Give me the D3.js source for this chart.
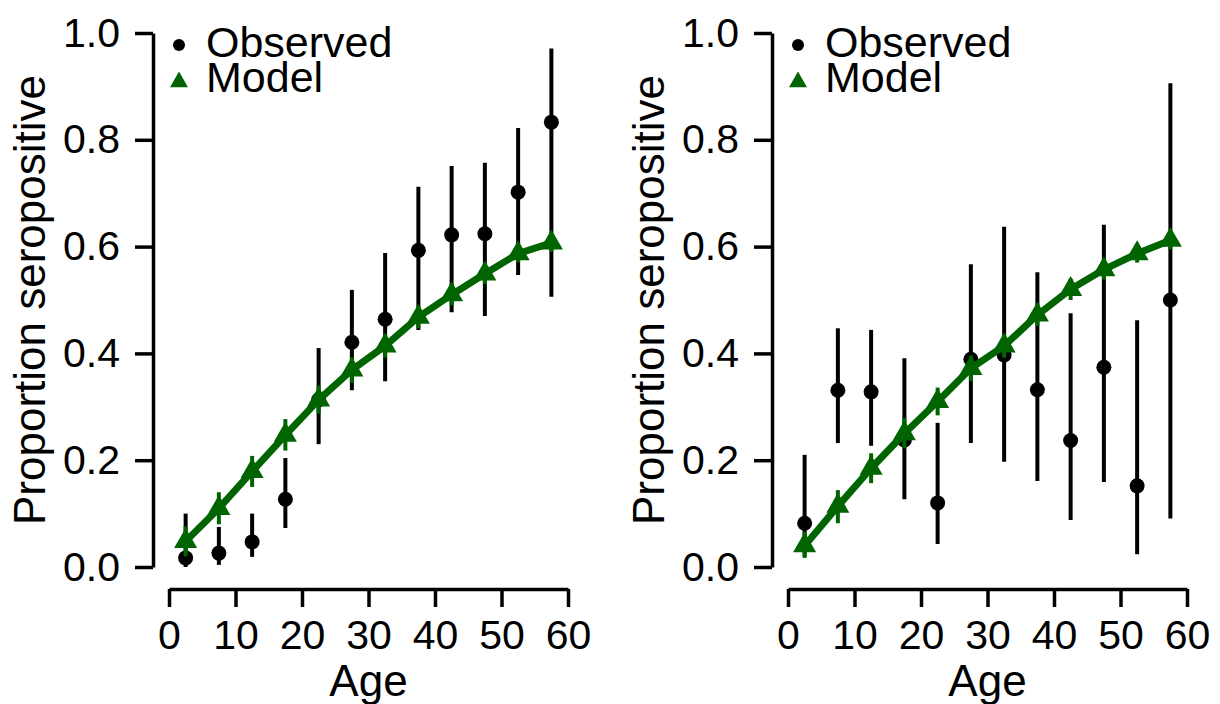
<!DOCTYPE html>
<html><head><meta charset="utf-8">
<script src="https://cdn.jsdelivr.net/npm/d3@7"></script>
<style>
html,body{margin:0;padding:0;background:#fff;}
svg{display:block;font-family:"Liberation Sans",Arial,Helvetica,sans-serif;}
</style></head>
<body>
<svg id="chart" width="1220" height="704"></svg>
<script>
const ages = [2.5, 7.5, 12.5, 17.5, 22.5, 27.5, 32.5, 37.5, 42.5, 47.5, 52.5, 57.5];
const xTicks = [0, 10, 20, 30, 40, 50, 60];
const yTicks = [0, 0.2, 0.4, 0.6, 0.8, 1.0];

// Left panel
const obsA   = [0.017, 0.026, 0.047, 0.127, 0.313, 0.421, 0.464, 0.593, 0.622, 0.624, 0.702, 0.833];
const obsLoA = [0.000, 0.004, 0.019, 0.073, 0.230, 0.331, 0.348, 0.444, 0.477, 0.470, 0.547, 0.506];
const obsHiA = [0.100, 0.075, 0.100, 0.204, 0.410, 0.519, 0.588, 0.712, 0.751, 0.757, 0.822, 0.971];
const modA   = [0.048, 0.110, 0.179, 0.247, 0.313, 0.369, 0.414, 0.468, 0.510, 0.549, 0.587, 0.607];
const modLoA = [0.020, 0.080, 0.150, 0.218, 0.287, 0.345, 0.392, 0.447, 0.490, 0.530, 0.570, 0.590];
const modHiA = [0.076, 0.140, 0.208, 0.277, 0.340, 0.393, 0.436, 0.489, 0.530, 0.568, 0.604, 0.624];

// Right panel
const obsB   = [0.082, 0.331, 0.328, 0.238, 0.120, 0.389, 0.397, 0.332, 0.237, 0.374, 0.152, 0.500];
const obsLoB = [0.020, 0.232, 0.227, 0.127, 0.043, 0.232, 0.197, 0.161, 0.088, 0.159, 0.024, 0.091];
const obsHiB = [0.210, 0.447, 0.444, 0.391, 0.270, 0.567, 0.637, 0.552, 0.475, 0.641, 0.462, 0.906];
const modB   = [0.040, 0.114, 0.185, 0.250, 0.310, 0.372, 0.414, 0.472, 0.520, 0.557, 0.587, 0.612];
const modLoB = [0.017, 0.082, 0.157, 0.222, 0.284, 0.348, 0.392, 0.451, 0.500, 0.538, 0.570, 0.595];
const modHiB = [0.066, 0.144, 0.213, 0.279, 0.336, 0.396, 0.436, 0.493, 0.540, 0.576, 0.604, 0.629];

const legendLabels = ["Observed", "Model"];
const xTitle = "Age";
const yTitle = "Proportion seropositive";

const green = "#006400";
const svg = d3.select("#chart");

function panel(off, obs, lo, hi, mod, mlo, mhi) {
  const x = d3.scaleLinear().domain([0, 60]).range([169 + off, 568 + off]);
  const y = d3.scaleLinear().domain([0, 1]).range([567, 33]);
  const g = svg.append("g");

  // y axis
  const ya = g.append("g").attr("transform", `translate(${153 + off},0)`)
    .call(d3.axisLeft(y).tickValues(yTicks).tickFormat(d3.format(".1f")).tickSize(18).tickSizeOuter(0).tickPadding(15));
  // x axis
  const xa = g.append("g").attr("transform", `translate(0,589)`)
    .call(d3.axisBottom(x).tickValues(xTicks).tickFormat(d3.format("d")).tickSize(18).tickSizeOuter(0).tickPadding(13));
  [ya, xa].forEach(a => {
    a.selectAll("path.domain").attr("stroke", "#000").attr("stroke-width", 3.5);
    a.selectAll(".tick line").attr("stroke", "#000").attr("stroke-width", 3.5);
    a.selectAll(".tick text").attr("fill", "#000").attr("font-size", 41)
      .attr("font-family", '"Liberation Sans",Arial,sans-serif');
  });

  // titles
  g.append("text").attr("x", (x(0) + x(60)) / 2).attr("y", 696).attr("text-anchor", "middle")
    .attr("font-size", 44).text(xTitle);
  g.append("text").attr("transform", `translate(${45 + off},${(y(0) + y(1)) / 2}) rotate(-90)`)
    .attr("text-anchor", "middle").attr("font-size", 44).text(yTitle);

  // observed error bars
  g.selectAll(".eb").data(ages).join("line")
    .attr("x1", d => x(d)).attr("x2", d => x(d))
    .attr("y1", (d, i) => y(lo[i])).attr("y2", (d, i) => y(hi[i]))
    .attr("stroke", "#000").attr("stroke-width", 4);
  g.selectAll(".dot").data(ages).join("circle")
    .attr("cx", d => x(d)).attr("cy", (d, i) => y(obs[i])).attr("r", 7.5).attr("fill", "#000");

  // model line
  const line = d3.line().x(d => x(d[0])).y(d => y(d[1]));
  g.append("path").datum(ages.map((a, i) => [a, mod[i]])).attr("d", line)
    .attr("fill", "none").attr("stroke", green).attr("stroke-width", 7).attr("stroke-linejoin", "round");
  g.selectAll(".mb").data(ages).join("line")
    .attr("x1", d => x(d)).attr("x2", d => x(d))
    .attr("y1", (d, i) => y(mlo[i])).attr("y2", (d, i) => y(mhi[i]))
    .attr("stroke", green).attr("stroke-width", 4);
  const tri = d3.symbol().type(d3.symbolTriangle).size(230);
  g.selectAll(".tri").data(ages).join("path")
    .attr("transform", (d, i) => `translate(${x(d)},${y(mod[i])})`)
    .attr("d", tri).attr("fill", green);

  // legend
  g.append("circle").attr("cx", 179 + off).attr("cy", 45).attr("r", 6).attr("fill", "#000");
  g.append("path").attr("transform", `translate(${179 + off},${82})`)
    .attr("d", d3.symbol().type(d3.symbolTriangle).size(140)()).attr("fill", green);
  g.append("text").attr("x", 206 + off).attr("y", 57).attr("font-size", 43).text(legendLabels[0]);
  g.append("text").attr("x", 206 + off).attr("y", 92).attr("font-size", 43).text(legendLabels[1]);
}

panel(0, obsA, obsLoA, obsHiA, modA, modLoA, modHiA);
panel(619, obsB, obsLoB, obsHiB, modB, modLoB, modHiB);
</script>
</body></html>
